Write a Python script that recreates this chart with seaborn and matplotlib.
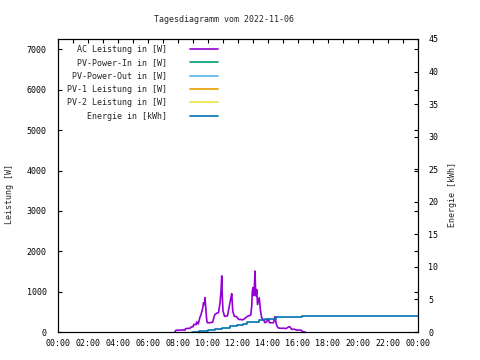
import pandas as pd
import matplotlib
matplotlib.use("Agg")
import matplotlib.pyplot as plt
import matplotlib.dates as mdates
import seaborn as sns

# Daten
tag = "2022-11-06"

ac_zeit = ["07:48", "07:51", "08:00", "08:18", "08:28", "08:30", "08:48", "08:51",
           "09:00", "09:03", "09:12", "09:15", "09:21", "09:27", "09:33", "09:39",
           "09:42", "09:45", "09:48", "09:51", "09:54", "09:57", "10:06", "10:18",
           "10:27", "10:36", "10:42", "10:48", "10:52", "10:55", "10:57", "11:00",
           "11:06", "11:18", "11:24", "11:30", "11:35", "11:39", "11:45", "11:54",
           "12:03", "12:12", "12:18", "12:22", "12:30", "12:36", "12:42", "12:51",
           "12:55", "12:57", "13:00", "13:03", "13:06", "13:08", "13:10", "13:12",
           "13:15", "13:18", "13:25", "13:30", "13:35", "13:41", "13:48", "13:54",
           "14:01", "14:06", "14:22", "14:28", "14:33", "14:36", "14:41", "14:54",
           "15:01", "15:12", "15:22", "15:27", "15:35", "15:45", "15:55", "16:06",
           "16:14", "16:18", "16:28"]
ac_leistung = [0, 40, 45, 50, 45, 85, 90, 120,
               130, 190, 180, 250, 200, 350, 450, 600,
               720, 680, 850, 600, 350, 230, 230, 240,
               430, 470, 480, 720, 1000, 1390, 900, 520,
               390, 400, 600, 800, 950, 520, 390, 380,
               310, 310, 300, 310, 350, 380, 400, 420,
               640, 1000, 1100, 900, 1200, 1510, 1100, 890,
               1050, 680, 850, 520, 350, 310, 230, 250,
               330, 230, 230, 380, 200, 150, 100, 90,
               95, 85, 125, 130, 65, 70, 45, 50,
               40, 10, 0]

energie_zeit = ["08:54", "09:24", "10:00", "10:27", "10:54", "11:27", "11:54",
                "12:21", "12:35", "13:24", "13:48", "14:33", "16:18", "23:59"]
energie_kwh = [0.0, 0.15, 0.30, 0.50, 0.65, 0.85, 1.05,
               1.25, 1.55, 1.90, 2.05, 2.30, 2.45, 2.45]

leere_reihen = ["PV-Power-In in [W]", "PV-Power-Out in [W]",
                "PV-1 Leistung in [W]", "PV-2 Leistung in [W]"]
leere_farben = ["#009e73", "#56b4e9", "#e69f00", "#f0e442"]

ac = pd.DataFrame({"Zeit": pd.to_datetime([f"{tag} {t}" for t in ac_zeit]),
                   "Leistung": ac_leistung})
en = pd.DataFrame({"Zeit": pd.to_datetime([f"{tag} {t}" for t in energie_zeit]),
                   "Energie": energie_kwh})

sns.set_style("white")
plt.rcParams["font.family"] = ["DejaVu Sans Mono"]
plt.rcParams["font.size"] = 6

fig = plt.figure(figsize=(4.8, 3.6), dpi=100)
ax = fig.add_axes([58 / 480, 28 / 360, 360 / 480, 293 / 360])
ax2 = ax.twinx()

sns.lineplot(data=ac, x="Zeit", y="Leistung", ax=ax, color="#9400d3",
             lw=1.2, label="AC Leistung in [W]", legend=False)
for name, farbe in zip(leere_reihen, leere_farben):
    ax.plot([], [], color=farbe, lw=1.2, label=name)
sns.lineplot(data=en, x="Zeit", y="Energie", ax=ax2, color="#0072b2",
             lw=1.2, drawstyle="steps-post", label="Energie in [kWh]", legend=False)

ax.set_xlim(pd.Timestamp(f"{tag} 00:00"), pd.Timestamp("2022-11-07 00:00"))
ax.set_ylim(0, 7260)
ax2.set_ylim(0, 45)
ax.set_yticks(range(0, 7001, 1000))
ax2.set_yticks(range(0, 46, 5))
ax.xaxis.set_major_locator(mdates.HourLocator(byhour=range(0, 24, 2)))
ax.xaxis.set_minor_locator(mdates.HourLocator())
ax.xaxis.set_major_formatter(mdates.DateFormatter("%H:%M"))

for spine in list(ax.spines.values()) + list(ax2.spines.values()):
    spine.set_color("black")
    spine.set_linewidth(0.8)

ax.tick_params(axis="both", which="both", direction="in", length=3, width=0.8,
               top=True, right=True, labelsize=6, colors="black")
ax.tick_params(axis="x", pad=5)
ax.tick_params(axis="y", pad=8)
ax2.tick_params(axis="y", direction="in", length=3, width=0.8, right=True,
                left=False, labelsize=6, pad=7.5, colors="black")

ax.set_xlabel("")
ax.set_ylabel("Leistung [W]", fontsize=6)
ax.yaxis.set_label_coords((14 - 58) / 360, 0.47)
ax2.set_ylabel("Energie [kWh]", fontsize=6)
ax2.yaxis.set_label_coords((448 - 58) / 360, 0.47)

fig.text(224 / 480, 1 - 19 / 360, "Tagesdiagramm vom 2022-11-06", ha="center",
         va="center", fontsize=6)

h1, l1 = ax.get_legend_handles_labels()
h2, l2 = ax2.get_legend_handles_labels()
ax.legend(h1 + h2, l1 + l2, loc="upper right", bbox_to_anchor=(0.445, 0.98),
          frameon=False, markerfirst=False, borderpad=0, borderaxespad=0,
          handlelength=3.4, handletextpad=2.7, labelspacing=0.52, fontsize=6)

fig.savefig("out.png", dpi=100)
